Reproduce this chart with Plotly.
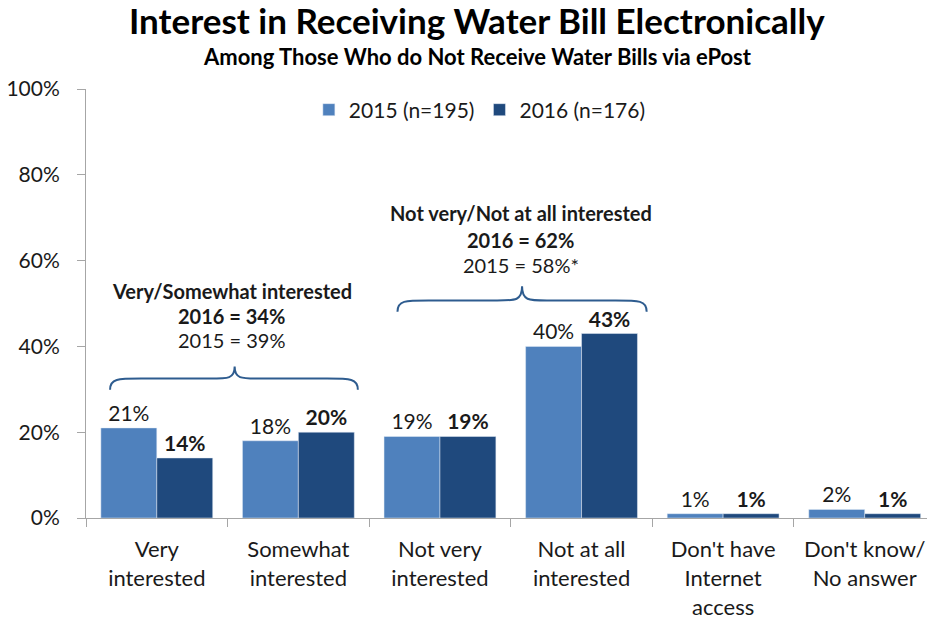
import plotly.graph_objects as go

# Survey categories and shares (%)
categories = ["Very<br>interested", "Somewhat<br>interested", "Not very<br>interested",
              "Not at all<br>interested", "Don't have<br>Internet<br>access", "Don't know/<br>No answer"]
values_2015 = [21, 18, 19, 40, 1, 2]
values_2016 = [14, 20, 19, 43, 1, 1]
series_names = ["2015 (n=195)", "2016 (n=176)"]
y_ticks = [0, 20, 40, 60, 80, 100]

FONT = "Lato, 'Open Sans', sans-serif"
C2015 = "#4F81BD"
C2016 = "#1F497D"
BRACE = "#2E5C8F"
TXT = "#1a1a1a"

x_idx = list(range(len(categories)))

fig = go.Figure()
fig.add_trace(go.Bar(
    x=x_idx, y=values_2015, name=series_names[0], marker_color=C2015,
    text=[f"{v}%" for v in values_2015], textposition="outside",
    textfont=dict(size=21, color=TXT, family=FONT), cliponaxis=False,
))
fig.add_trace(go.Bar(
    x=x_idx, y=values_2016, name=series_names[1], marker_color=C2016,
    text=[f"<b>{v}%</b>" for v in values_2016], textposition="outside",
    textfont=dict(size=21, color=TXT, family=FONT), cliponaxis=False,
))


def brace_path(x0, x1, xm, ybase, yh, ypeak):
    """Curly brace opening downward, with the point at (xm, ypeak)."""
    dxl = (xm - x0)
    dxr = (x1 - xm)
    return (
        f"M {x0},{ybase} "
        f"C {x0},{yh} {x0 + 0.06 * dxl},{yh} {x0 + 0.25 * dxl},{yh} "
        f"L {xm - 0.2 * dxl},{yh} "
        f"C {xm - 0.05 * dxl},{yh} {xm},{yh} {xm},{ypeak} "
        f"C {xm},{yh} {xm + 0.05 * dxr},{yh} {xm + 0.2 * dxr},{yh} "
        f"L {x1 - 0.25 * dxr},{yh} "
        f"C {x1 - 0.06 * dxr},{yh} {x1},{yh} {x1},{ybase}"
    )


braces = [
    dict(x0=-0.33, x1=1.42, xm=0.55, ybase=29.9, yh=32.5, ypeak=35.3),
    dict(x0=1.70, x1=3.46, xm=2.58, ybase=48.1, yh=50.7, ypeak=54.0),
]
for b in braces:
    fig.add_shape(type="path", xref="x", yref="y",
                  path=brace_path(b["x0"], b["x1"], b["xm"], b["ybase"], b["yh"], b["ypeak"]),
                  line=dict(color=BRACE, width=2))

group_notes = [
    (0.53, [("<b>Very/Somewhat interested</b>", 52.8), ("<b>2016 = 34%</b>", 47.2), ("2015 = 39%", 41.4)]),
    (2.57, [("<b>Not very/Not at all interested</b>", 71.0), ("<b>2016 = 62%</b>", 64.7), ("2015 = 58%*", 58.9)]),
]
for xc, lines in group_notes:
    for txt, yv in lines:
        fig.add_annotation(x=xc, y=yv, xref="x", yref="y", text=txt, showarrow=False,
                           font=dict(size=20, color=TXT, family=FONT))

# Title and subtitle
fig.add_annotation(xref="paper", yref="paper", x=0.465, y=1.16, xanchor="center", yanchor="middle",
                   text="<b>Interest in Receiving Water Bill Electronically</b>", showarrow=False,
                   font=dict(size=35, family=FONT, color="black"))
fig.add_annotation(xref="paper", yref="paper", x=0.465, y=1.075, xanchor="center", yanchor="middle",
                   text="<b>Among Those Who do Not Receive Water Bills via ePost</b>", showarrow=False,
                   font=dict(size=22, family=FONT, color="black"))

fig.update_layout(
    width=927, height=619,
    margin=dict(l=86, r=0, t=89, b=101),
    paper_bgcolor="white", plot_bgcolor="white",
    barmode="group", bargap=0.21, bargroupgap=0,
    font=dict(family=FONT, color=TXT),
    legend=dict(orientation="h", x=0.265, xanchor="left", y=0.951, yanchor="middle",
                font=dict(size=21, family=FONT, color=TXT),
                bgcolor="rgba(0,0,0,0)", itemwidth=30, traceorder="normal"),
    showlegend=True,
)
fig.update_xaxes(
    type="linear", range=[-0.5, 5.44], tickvals=x_idx, ticktext=categories,
    ticks="", showline=True, linecolor="#A6A6A6", linewidth=1,
    showgrid=False, zeroline=False, ticklabelstandoff=12,
    tickfont=dict(size=22, family=FONT, color=TXT),
)
fig.update_yaxes(
    range=[0, 100], tickvals=y_ticks, ticktext=[f"{v}%" for v in y_ticks],
    ticks="outside", ticklen=8, tickcolor="#A6A6A6",
    showline=True, linecolor="#A6A6A6", linewidth=1,
    showgrid=False, zeroline=False, ticklabelstandoff=13,
    tickfont=dict(size=21, family=FONT, color=TXT),
)

# Category boundary tick marks under the baseline
fig.update_layout(xaxis2=dict(
    overlaying="x", side="bottom", range=[-0.5, 5.44], anchor="y",
    tickvals=[i + 0.5 for i in range(len(categories) - 1)] + [-0.5],
    ticks="outside", ticklen=8, tickcolor="#A6A6A6", showticklabels=False,
    showgrid=False, zeroline=False, showline=False,
))
fig.add_trace(go.Scatter(x=[None], y=[None], xaxis="x2", showlegend=False, hoverinfo="skip"))

fig.write_html("out.html")
